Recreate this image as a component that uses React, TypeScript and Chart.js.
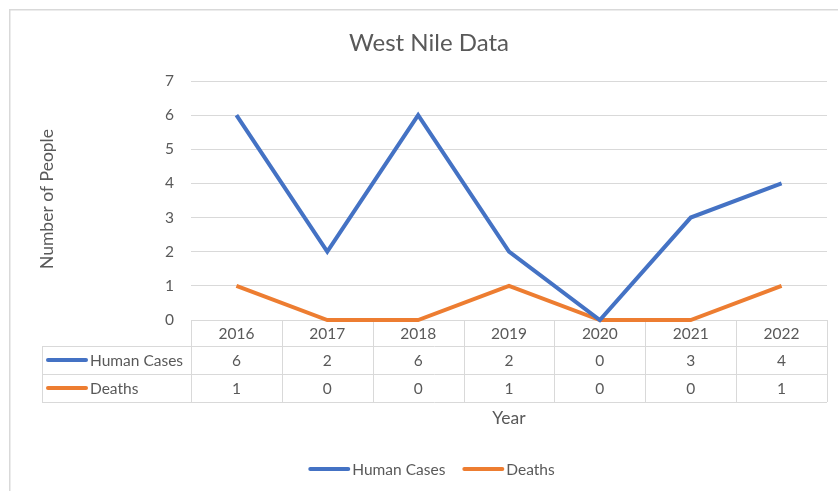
import React, { useEffect, useRef } from "react";
import { Chart, registerables } from "chart.js";

Chart.register(...registerables);

const years = ["2016", "2017", "2018", "2019", "2020", "2021", "2022"];
const humanCases = [6, 2, 6, 2, 0, 3, 4];
const deaths = [1, 0, 0, 1, 0, 0, 1];
const seriesNames = ["Human Cases", "Deaths"];
const seriesColors = ["#4472C4", "#ED7D31"];
const chartTitle = "West Nile Data";
const yAxisTitle = "Number of People";
const xAxisTitle = "Year";

const FONT = "Lato, 'Open Sans', sans-serif";
const TEXT = "#595959";
const GRID = "#d9d9d9";
const SMALL = 15.5;
const AXIS = 17.5;
const TITLE = 24;

const decorPlugin = {
  id: "decor",
  beforeDatasetsDraw(chart: any) {
    const ctx = chart.ctx;
    const area = chart.chartArea;
    const xs = chart.scales.x;
    const n = years.length;
    const colW = (area.right - area.left) / n;
    const top = area.bottom;
    const r1 = top + 26;
    const r2 = r1 + 28;
    const r3 = r2 + 28;
    const legL = 42;
    ctx.save();
    ctx.strokeStyle = GRID;
    ctx.lineWidth = 1;
    const h = (y: number, x0: number, x1: number) => {
      ctx.beginPath();
      ctx.moveTo(x0, Math.round(y) + 0.5);
      ctx.lineTo(x1, Math.round(y) + 0.5);
      ctx.stroke();
    };
    const v = (x: number, y0: number, y1: number) => {
      ctx.beginPath();
      ctx.moveTo(Math.round(x) + 0.5, y0);
      ctx.lineTo(Math.round(x) + 0.5, y1);
      ctx.stroke();
    };
    h(r1, legL, area.right);
    h(r2, legL, area.right);
    h(r3, legL, area.right);
    v(legL, r1, r3);
    for (let i = 0; i <= n; i++) {
      v(area.left + i * colW, top, r3);
    }
    ctx.fillStyle = TEXT;
    ctx.font = `${SMALL}px ${FONT}`;
    ctx.textAlign = "center";
    ctx.textBaseline = "middle";
    const rows = [humanCases, deaths];
    years.forEach((yr, i) => {
      const cx = xs.getPixelForValue(i);
      ctx.fillText(yr, cx, (top + r1) / 2 + 1);
      ctx.fillText(String(rows[0][i]), cx, (r1 + r2) / 2 + 1);
      ctx.fillText(String(rows[1][i]), cx, (r2 + r3) / 2 + 1);
    });
    const rowMids = [(r1 + r2) / 2, (r2 + r3) / 2];
    seriesNames.forEach((name, k) => {
      ctx.strokeStyle = seriesColors[k];
      ctx.lineWidth = 4;
      ctx.lineCap = "round";
      ctx.beginPath();
      ctx.moveTo(48, rowMids[k]);
      ctx.lineTo(86, rowMids[k]);
      ctx.stroke();
      ctx.fillStyle = TEXT;
      ctx.textAlign = "left";
      ctx.fillText(name, 90, rowMids[k] + 1);
    });
    ctx.restore();
  },
  afterDraw(chart: any) {
    const ctx = chart.ctx;
    const area = chart.chartArea;
    ctx.save();
    ctx.strokeStyle = GRID;
    ctx.lineWidth = 1.5;
    ctx.strokeRect(9.75, 9.75, 900, 600);
    ctx.fillStyle = TEXT;
    ctx.textAlign = "center";
    ctx.textBaseline = "middle";
    ctx.font = `${TITLE}px ${FONT}`;
    ctx.fillText(chartTitle, 429, 43);
    ctx.font = `${AXIS}px ${FONT}`;
    ctx.save();
    ctx.translate(47, 199);
    ctx.rotate(-Math.PI / 2);
    ctx.fillText(yAxisTitle, 0, 0);
    ctx.restore();
    ctx.fillText(xAxisTitle, (area.left + area.right) / 2, 418);
    ctx.font = `${SMALL}px ${FONT}`;
    ctx.textAlign = "left";
    const ly = 469;
    const widths = seriesNames.map((s) => ctx.measureText(s).width);
    const keyW = 40;
    const gap = 18;
    const total = keyW + 3 + widths[0] + gap + keyW + 3 + widths[1];
    let x = 432 - total / 2;
    seriesNames.forEach((name, k) => {
      ctx.strokeStyle = seriesColors[k];
      ctx.lineWidth = 4;
      ctx.lineCap = "round";
      ctx.beginPath();
      ctx.moveTo(x + 1, ly);
      ctx.lineTo(x + keyW - 1, ly);
      ctx.stroke();
      x += keyW + 3;
      ctx.fillStyle = TEXT;
      ctx.fillText(name, x, ly + 1);
      x += widths[k] + gap;
    });
    ctx.restore();
  },
};

export default function App() {
  const ref = useRef<HTMLCanvasElement | null>(null);
  useEffect(() => {
    if (!ref.current) return;
    const chart = new Chart(ref.current, {
      type: "line",
      data: {
        labels: years,
        datasets: [
          {
            label: seriesNames[0],
            data: humanCases,
            borderColor: seriesColors[0],
            backgroundColor: seriesColors[0],
            borderWidth: 4,
            pointRadius: 0,
            tension: 0,
            clip: false,
          },
          {
            label: seriesNames[1],
            data: deaths,
            borderColor: seriesColors[1],
            backgroundColor: seriesColors[1],
            borderWidth: 4,
            pointRadius: 0,
            tension: 0,
            clip: false,
          },
        ],
      },
      options: {
        responsive: false,
        animation: false,
        layout: { padding: { top: 81, bottom: 171, right: 11, left: 0 } },
        plugins: {
          legend: { display: false },
          title: { display: false },
          tooltip: { enabled: false },
        },
        scales: {
          x: { display: false, offset: true },
          y: {
            min: 0,
            max: 7,
            ticks: {
              stepSize: 1,
              color: TEXT,
              font: { size: SMALL, family: FONT },
              padding: 17,
            },
            grid: { color: GRID, drawTicks: false, lineWidth: 1 },
            border: { display: false },
            afterFit: (s: any) => {
              s.width = 191;
            },
          },
        },
      },
      plugins: [decorPlugin],
    } as any);
    return () => chart.destroy();
  }, []);
  return (
    <canvas
      ref={ref}
      width={838}
      height={491}
      style={{ position: "fixed", left: 0, top: 0, display: "block", background: "#fff" }}
    />
  );
}
